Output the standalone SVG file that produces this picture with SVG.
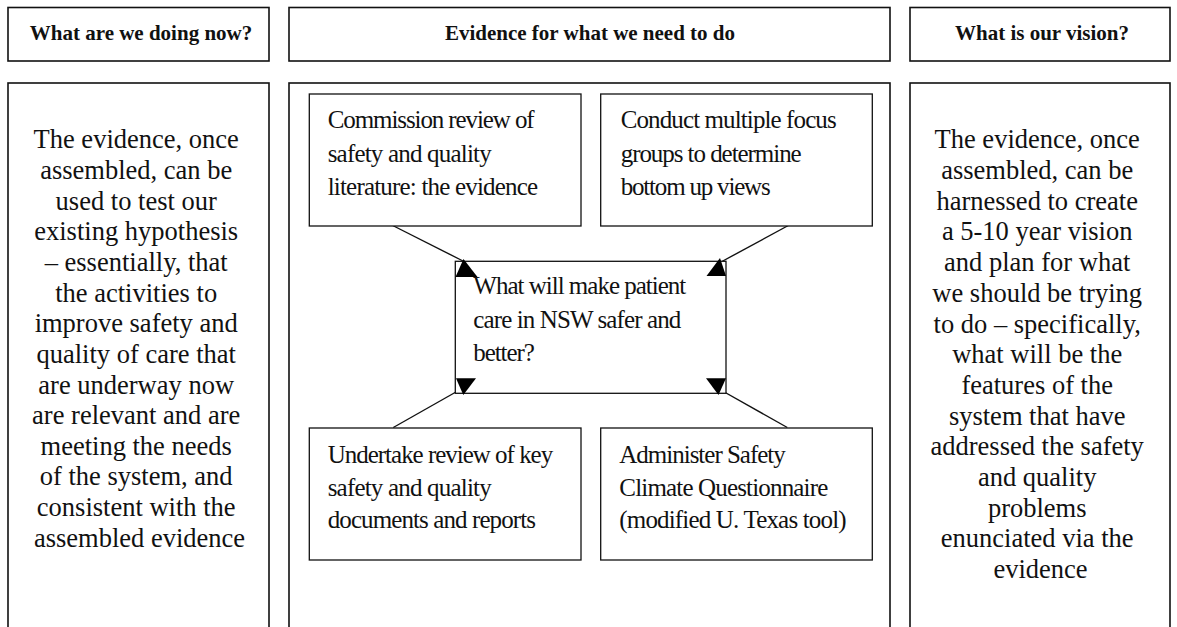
<svg xmlns="http://www.w3.org/2000/svg" width="1177" height="627" viewBox="0 0 1177 627">
<style>
.frame{fill:#fff;stroke:#111;stroke-width:1.6}
.box{fill:#fff;stroke:#111;stroke-width:1.3}
.hdr{font-family:"Liberation Serif","Times New Roman",serif;font-weight:bold;font-size:21px;fill:#111;text-anchor:middle}
.body{font-family:"Liberation Serif","Times New Roman",serif;font-size:26.5px;fill:#111;text-anchor:middle}
.inner{font-family:"Liberation Serif","Times New Roman",serif;font-size:25px;fill:#111}
.conn{stroke:#111;stroke-width:1.4;fill:none}
.head{fill:#000}
</style>
<rect width="1177" height="627" fill="#fff"/>
<g id="hdr-now">
<rect class="frame" x="8" y="7.5" width="261" height="53.5"/>
<text class="hdr" x="141" y="39.5">What are we doing now?</text>
</g>
<g id="hdr-evidence">
<rect class="frame" x="289" y="7.5" width="601" height="53.5"/>
<text class="hdr" x="590" y="39.5">Evidence for what we need to do</text>
</g>
<g id="hdr-vision">
<rect class="frame" x="910" y="7.5" width="260" height="53.5"/>
<text class="hdr" x="1042" y="39.5">What is our vision?</text>
</g>
<g id="col-now">
<rect class="frame" x="8" y="83" width="261" height="570"/>
<text class="body" x="139.5">
<tspan x="139.5" y="148.3">The evidence, once</tspan>
<tspan x="139.5" y="178.95">assembled, can be</tspan>
<tspan x="139.5" y="209.6">used to test our</tspan>
<tspan x="139.5" y="240.25">existing hypothesis</tspan>
<tspan x="139.5" y="270.9">– essentially, that</tspan>
<tspan x="139.5" y="301.55">the activities to</tspan>
<tspan x="139.5" y="332.2">improve safety and</tspan>
<tspan x="139.5" y="362.85">quality of care that</tspan>
<tspan x="139.5" y="393.5">are underway now</tspan>
<tspan x="139.5" y="424.15">are relevant and are</tspan>
<tspan x="139.5" y="454.8">meeting the needs</tspan>
<tspan x="139.5" y="485.45">of the system, and</tspan>
<tspan x="139.5" y="516.1">consistent with the</tspan>
<tspan x="139.5" y="546.75">assembled evidence</tspan>
</text>
</g>
<g id="col-evidence">
<rect class="frame" x="289" y="83" width="601" height="570"/>
</g>
<g id="col-vision">
<rect class="frame" x="910" y="83" width="260" height="570"/>
<text class="body" x="1040.5">
<tspan x="1040.5" y="148.3">The evidence, once</tspan>
<tspan x="1040.5" y="179">assembled, can be</tspan>
<tspan x="1040.5" y="209.7">harnessed to create</tspan>
<tspan x="1040.5" y="240.4">a 5-10 year vision</tspan>
<tspan x="1040.5" y="271.1">and plan for what</tspan>
<tspan x="1040.5" y="301.8">we should be trying</tspan>
<tspan x="1040.5" y="332.5">to do – specifically,</tspan>
<tspan x="1040.5" y="363.2">what will be the</tspan>
<tspan x="1040.5" y="393.9">features of the</tspan>
<tspan x="1040.5" y="424.6">system that have</tspan>
<tspan x="1040.5" y="455.3">addressed the safety</tspan>
<tspan x="1040.5" y="486">and quality</tspan>
<tspan x="1040.5" y="516.7">problems</tspan>
<tspan x="1040.5" y="547.4">enunciated via the</tspan>
<tspan x="1040.5" y="578.1">evidence</tspan>
</text>
</g>
<g id="connectors">
<line class="conn" x1="392.7" y1="225.5" x2="463" y2="261"/>
<line class="conn" x1="788.3" y1="225.5" x2="721" y2="262"/>
<line class="conn" x1="393.3" y1="427.5" x2="463" y2="388"/>
<line class="conn" x1="787.3" y1="427.5" x2="719" y2="389"/>
</g>
<g id="n-commission">
<rect class="box" x="309.3" y="94" width="271.7" height="132"/>
<text class="inner">
<tspan x="327.7" y="128.3" textLength="207" lengthAdjust="spacing">Commission review of</tspan>
<tspan x="327.7" y="161.5" textLength="164" lengthAdjust="spacing">safety and quality</tspan>
<tspan x="327.7" y="194.5" textLength="210.5" lengthAdjust="spacing">literature: the evidence</tspan>
</text>
</g>
<g id="n-focus">
<rect class="box" x="600.7" y="94" width="271.6" height="132"/>
<text class="inner">
<tspan x="620.7" y="128.3" textLength="216" lengthAdjust="spacing">Conduct multiple focus</tspan>
<tspan x="620.7" y="161.5" textLength="181" lengthAdjust="spacing">groups to determine</tspan>
<tspan x="620.7" y="194.5" textLength="150" lengthAdjust="spacing">bottom up views</tspan>
</text>
</g>
<g id="n-center">
<rect class="box" x="455.3" y="261.3" width="270.7" height="132"/>
<text class="inner">
<tspan x="473.3" y="294.3" textLength="213" lengthAdjust="spacing">What will make patient</tspan>
<tspan x="473.3" y="327.7" textLength="208" lengthAdjust="spacing">care in NSW safer and</tspan>
<tspan x="473.3" y="360.7" textLength="61.5" lengthAdjust="spacing">better?</tspan>
</text>
<polygon class="head" points="463.5,259 455.5,277 477.5,277"/>
<polygon class="head" points="720,258 706.5,276 726,276"/>
<polygon class="head" points="456,378.3 476,378.3 463.3,395"/>
<polygon class="head" points="706,378.3 726,378.3 718.5,395"/>
</g>
<g id="n-documents">
<rect class="box" x="309.3" y="428" width="271.7" height="132"/>
<text class="inner">
<tspan x="327.7" y="462.7" textLength="225.5" lengthAdjust="spacing">Undertake review of key</tspan>
<tspan x="327.7" y="495.5" textLength="164" lengthAdjust="spacing">safety and quality</tspan>
<tspan x="327.7" y="528.3" textLength="208.3" lengthAdjust="spacing">documents and reports</tspan>
</text>
</g>
<g id="n-questionnaire">
<rect class="box" x="600.7" y="428" width="271.6" height="132"/>
<text class="inner">
<tspan x="619.3" y="462.7" textLength="166.5" lengthAdjust="spacing">Administer Safety</tspan>
<tspan x="619.3" y="495.5" textLength="209" lengthAdjust="spacing">Climate Questionnaire</tspan>
<tspan x="619.3" y="528.3" textLength="227.3" lengthAdjust="spacing">(modified U. Texas tool)</tspan>
</text>
</g>
</svg>
